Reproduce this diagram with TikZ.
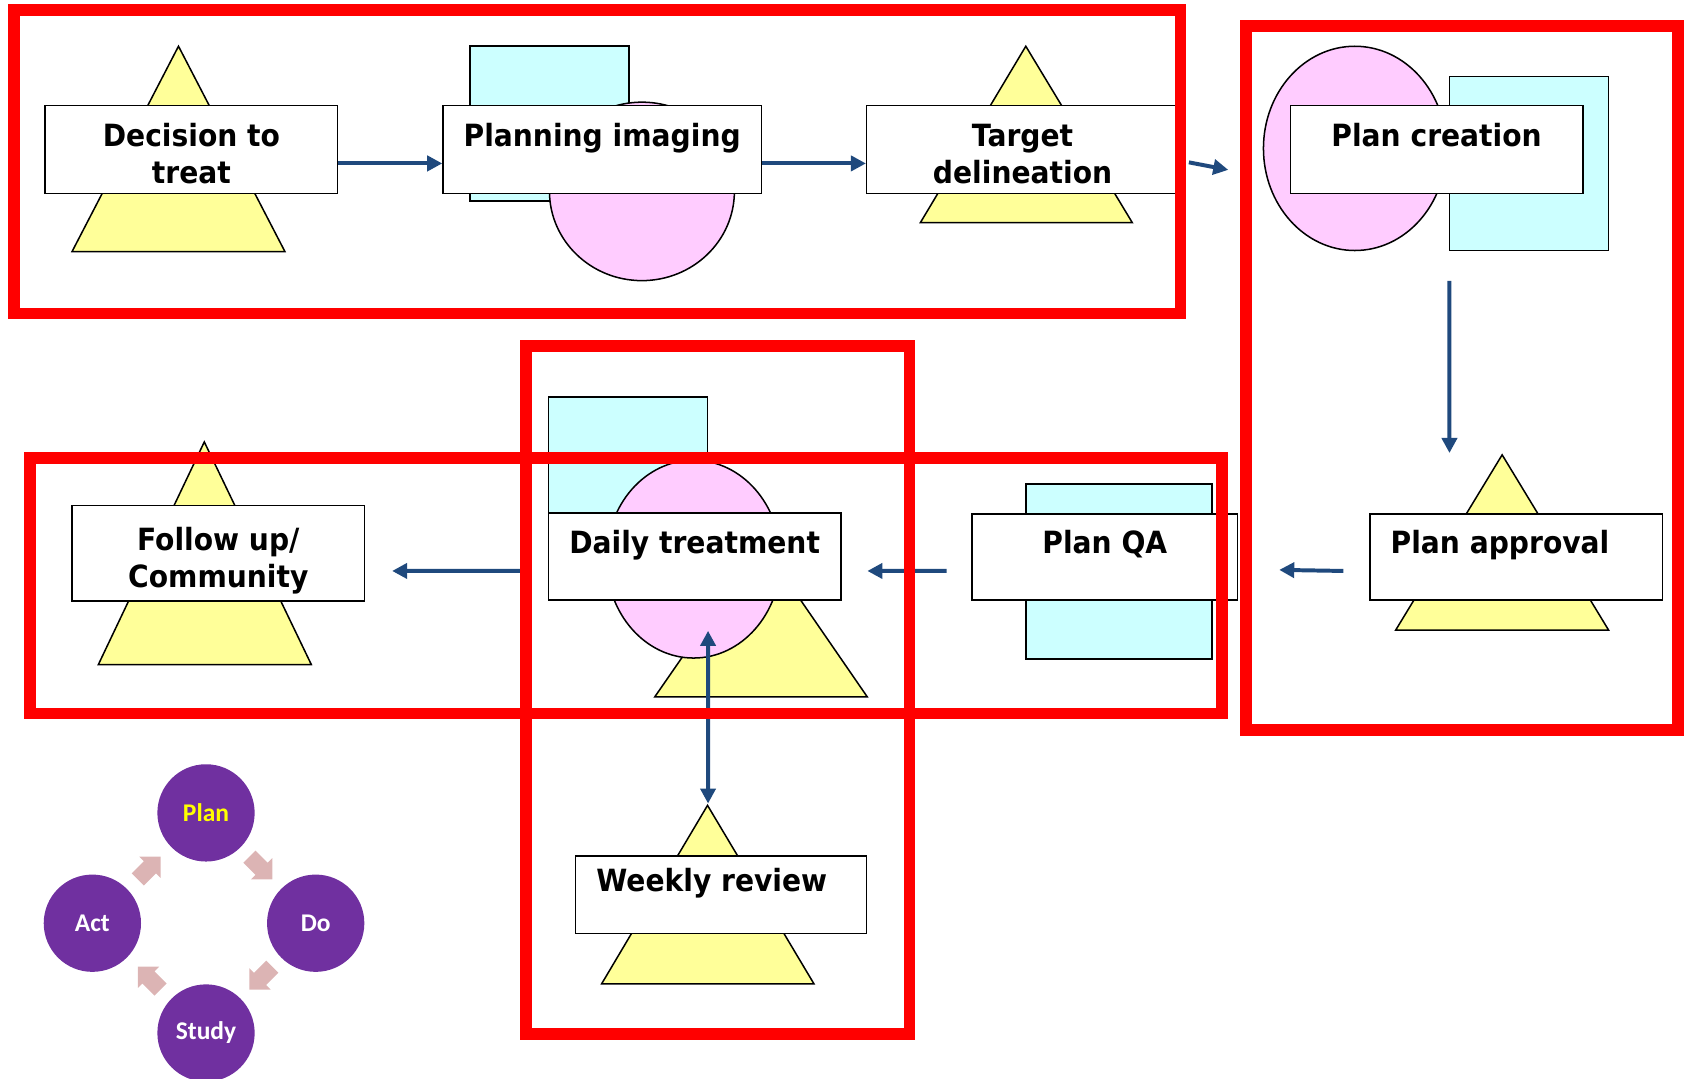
\documentclass[tikz,border=0pt]{standalone}
\usepackage{fontspec}
\setmainfont{DejaVu Sans}[FakeStretch=0.92]
\newfontfamily\pdsafont{Carlito}
\usetikzlibrary{arrows.meta,calc}

\definecolor{groupred}{RGB}{255,0,0}
\definecolor{flowblue}{RGB}{31,73,125}
\definecolor{triyellow}{RGB}{255,255,153}
\definecolor{scancyan}{RGB}{204,255,255}
\definecolor{ovalpink}{RGB}{255,204,255}
\definecolor{pdsapurple}{RGB}{112,48,160}
\definecolor{pdsapink}{RGB}{220,180,180}
\definecolor{planyellow}{RGB}{255,255,0}

\begin{document}
\begin{tikzpicture}[x=0.02cm, y=-0.02cm,
    stepbox/.style={draw=black, fill=white, line width=0.8pt, inner sep=0pt, align=center,
        text height=1.28cm, text depth=0pt, font=\fontsize{16.2pt}{19.9pt}\selectfont\bfseries},
    tri/.style={draw=black, fill=triyellow, line width=0.8pt, line join=miter},
    scan/.style={draw=black, fill=scancyan, line width=0.8pt},
    oval/.style={draw=black, fill=ovalpink, line width=0.8pt},
    flow/.style={draw=flowblue, line width=2.1pt, -{Triangle[length=0.28cm,width=0.28cm]}},
    group/.style={draw=groupred, line width=0.214cm, line join=miter},
    pdsa/.style={circle, fill=pdsapurple, minimum size=1.81cm, inner sep=0pt, text=white,
        font=\pdsafont\fontsize{13.5pt}{16pt}\selectfont\bfseries},
    cyclearrow/.pic={\fill[pdsapink] (-15,-8) -- (1,-8) -- (1,-14) -- (15,0) -- (1,14) -- (1,8) -- (-15,8) -- cycle;}
]
\useasboundingbox (0,0) rectangle (1568,1003);

% decision to treat
\draw[tri] (166,43) -- (265,234) -- (67,234) -- cycle;
\node[stepbox, minimum width=5.44cm, minimum height=1.64cm] (decision) at (178,139) {Decision to\\treat};

% planning imaging
\draw[scan] (437,43) rectangle (585,187);
\draw[oval] (597,178) ellipse [x radius=1.72cm, y radius=1.66cm];
\node[stepbox, minimum width=5.92cm, minimum height=1.64cm] (planning) at (560,139) {Planning imaging\\\phantom{x}};

% target delineation
\draw[tri] (954,43) -- (1053,207) -- (856,207) -- cycle;
\node[stepbox, minimum width=5.80cm, minimum height=1.64cm] (target) at (951,139) {Target\\delineation};

% plan creation
\draw[oval] (1260,138) ellipse [x radius=1.70cm, y radius=1.90cm];
\draw[scan] (1348,71) rectangle (1496,233);
\node[stepbox, minimum width=5.44cm, minimum height=1.64cm] (creation) at (1336,139) {Plan creation\\\phantom{x}};

% plan approval
\draw[tri] (1397,423) -- (1496,586) -- (1298,586) -- cycle;
\node[stepbox, minimum width=5.44cm, minimum height=1.60cm] (approval) at (1410,518) {Plan approval\hspace*{0.6cm}\\\phantom{x}};

% plan QA
\draw[scan] (954,450) rectangle (1127,613);
\node[stepbox, minimum width=4.94cm, minimum height=1.60cm] (qa) at (1027.5,518) {Plan QA\\\phantom{x}};

% daily treatment
\draw[scan] (510,369) rectangle (658,520);
\draw[tri] (708,505) -- (806.5,648) -- (609,648) -- cycle;
\draw[oval] (645,520) ellipse [x radius=1.62cm, y radius=1.84cm];
\node[stepbox, minimum width=5.44cm, minimum height=1.62cm] (daily) at (646,517.5) {Daily treatment\\\phantom{x}};

% follow up
\draw[tri] (190,411) -- (289.5,618) -- (91.5,618) -- cycle;
\node[stepbox, minimum width=5.44cm, minimum height=1.78cm] (followup) at (203,514.5) {Follow up/\\Community};

% weekly review
\draw[tri] (658,749) -- (757,915) -- (559.5,915) -- cycle;
\node[stepbox, text depth=-0.2cm, minimum width=5.42cm, minimum height=1.44cm] (weekly) at (670.5,832) {Weekly review\hspace*{0.34cm}\\\phantom{x}};

% flow
\draw[flow] ([yshift=-0.26cm]decision.east) -- ([yshift=-0.26cm]planning.west);
\draw[flow] ([yshift=-0.26cm]planning.east) -- ([yshift=-0.26cm]target.west);
\draw[flow] ([xshift=0.18cm,yshift=-0.24cm]target.east) -- ([xshift=-1.14cm,yshift=-0.38cm]creation.west);
\draw[flow] ([xshift=0.24cm,yshift=-1.61cm]creation.south) -- ([xshift=-1.24cm,yshift=1.12cm]approval.north);
\draw[flow] ([xshift=-0.48cm,yshift=-0.26cm]approval.west) -- ([xshift=0.76cm,yshift=-0.24cm]qa.east);
\draw[flow] ([xshift=-0.46cm,yshift=-0.26cm]qa.west) -- ([xshift=0.48cm,yshift=-0.27cm]daily.east);
\draw[flow] ([xshift=-0.42cm,yshift=-0.27cm]daily.west) -- ([xshift=0.5cm,yshift=-0.33cm]followup.east);
\draw[flow, {Triangle[length=0.28cm,width=0.28cm]}-{Triangle[length=0.28cm,width=0.28cm]}]
    ([xshift=0.25cm,yshift=-0.56cm]daily.south) -- ([xshift=-0.24cm,yshift=0.96cm]weekly.north);

% red groups
\draw[group] (13,9.5) rectangle (1098,291.5);
\draw[group] (1159,24) rectangle (1560.5,679);
\draw[group] (28,426) rectangle (1136.5,663.5);
\draw[group] (489,322) rectangle (846,961.5);

% PDSA
\node[pdsa, text=planyellow] (plan) at (191.6,756) {Plan};
\node[pdsa] (do) at (293.6,858.6) {Do};
\node[pdsa] (study) at (191.6,960.7) {Study};
\node[pdsa] (act) at (85.9,858.6) {Act};
\pic[rotate=-45] at ($(plan)!0.5!(do)$) {cyclearrow};
\pic[rotate=-135] at ($(do)!0.5!(study)$) {cyclearrow};
\pic[rotate=135] at ($(study)!0.5!(act)$) {cyclearrow};
\pic[rotate=45] at ($(act)!0.5!(plan)$) {cyclearrow};
\end{tikzpicture}
\end{document}
